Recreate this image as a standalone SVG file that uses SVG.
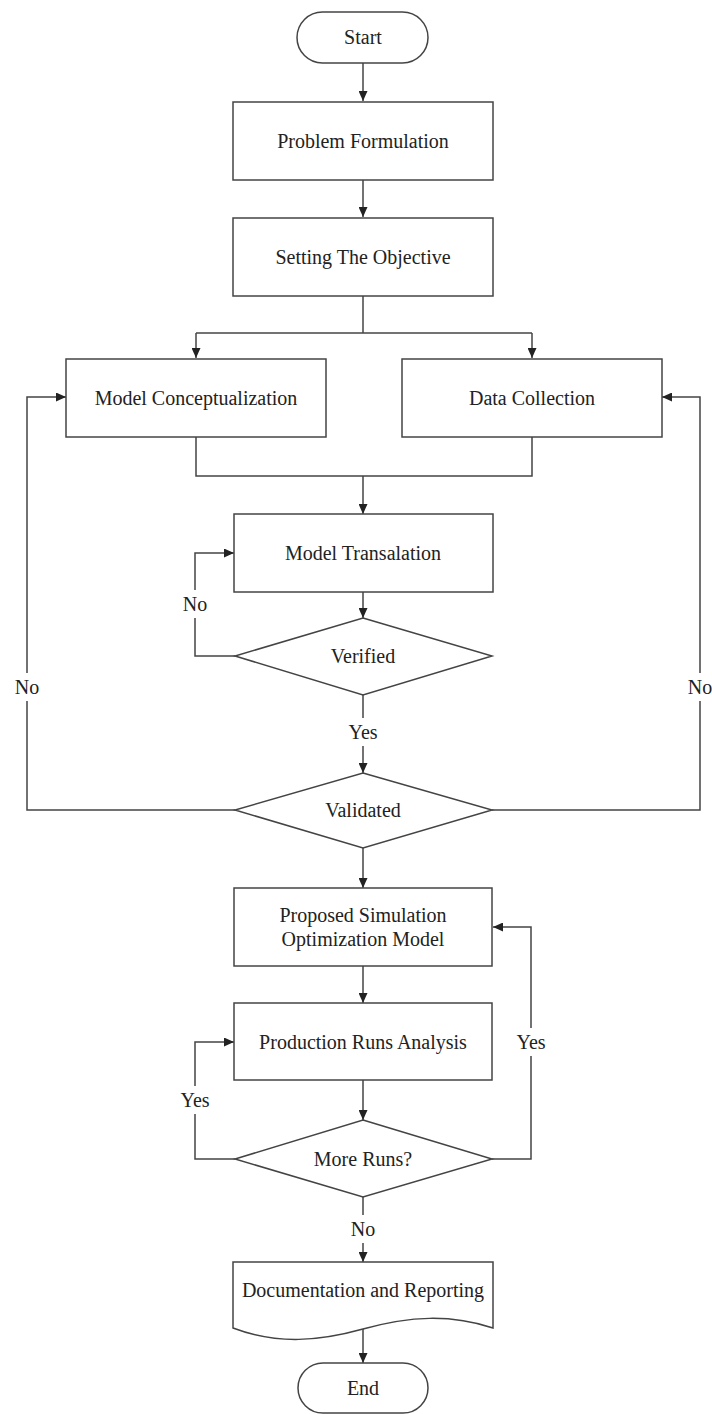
<svg xmlns="http://www.w3.org/2000/svg" width="712" height="1414" viewBox="0 0 712 1414">
<style>
.shape{fill:#fff;stroke:#444;stroke-width:1.5}
.ln{fill:none;stroke:#444;stroke-width:1.5}
.t{font-family:"Liberation Serif","Times New Roman",serif;font-size:20px;fill:#222;text-anchor:middle}
.bg{fill:#fff;stroke:none}
</style>
<defs>
<marker id="ah" markerUnits="userSpaceOnUse" markerWidth="10" markerHeight="9" refX="10" refY="4.5" orient="auto">
<path d="M0,0 L10,4.5 L0,9 Z" fill="#222"/>
</marker>
</defs>
<g id="connectors">
<path class="ln" d="M363,63 V101" marker-end="url(#ah)"/>
<path class="ln" d="M363,180 V217" marker-end="url(#ah)"/>
<path class="ln" d="M363,296 V333"/>
<path class="ln" d="M196,333 H532"/>
<path class="ln" d="M196,333 V358" marker-end="url(#ah)"/>
<path class="ln" d="M532,333 V358" marker-end="url(#ah)"/>
<path class="ln" d="M196,437 V476 H532 V437"/>
<path class="ln" d="M363,476 V514" marker-end="url(#ah)"/>
<path class="ln" d="M363,592 V618" marker-end="url(#ah)"/>
<path class="ln" d="M235,656 H195 V553 H234" marker-end="url(#ah)"/>
<path class="ln" d="M363,695 V773" marker-end="url(#ah)"/>
<path class="ln" d="M235,810 H27 V397 H66" marker-end="url(#ah)"/>
<path class="ln" d="M492,810 H700 V397 H662" marker-end="url(#ah)"/>
<path class="ln" d="M363,848 V888" marker-end="url(#ah)"/>
<path class="ln" d="M363,966 V1003" marker-end="url(#ah)"/>
<path class="ln" d="M363,1080 V1120" marker-end="url(#ah)"/>
<path class="ln" d="M235,1159 H195 V1042 H234" marker-end="url(#ah)"/>
<path class="ln" d="M492,1159 H531 V927 H493" marker-end="url(#ah)"/>
<path class="ln" d="M363,1197 V1262" marker-end="url(#ah)"/>
<path class="ln" d="M363,1329 V1363" marker-end="url(#ah)"/>
<rect class="bg" x="181" y="590" width="28" height="28"/>
<text class="t" x="195" y="604" dy="0.35em">No</text>
<rect class="bg" x="346" y="718" width="34" height="28"/>
<text class="t" x="363" y="732" dy="0.35em">Yes</text>
<rect class="bg" x="13" y="673" width="28" height="28"/>
<text class="t" x="27" y="687" dy="0.35em">No</text>
<rect class="bg" x="686" y="673" width="26" height="28"/>
<text class="t" x="700" y="687" dy="0.35em">No</text>
<rect class="bg" x="178" y="1086" width="34" height="28"/>
<text class="t" x="195" y="1100" dy="0.35em">Yes</text>
<rect class="bg" x="514" y="1028" width="34" height="28"/>
<text class="t" x="531" y="1042" dy="0.35em">Yes</text>
<rect class="bg" x="349" y="1215" width="28" height="28"/>
<text class="t" x="363" y="1229" dy="0.35em">No</text>
</g>
<g id="start">
<rect class="shape" x="297" y="12" width="131" height="51" rx="25.5"/>
<text class="t" x="363" y="37" dy="0.35em">Start</text>
</g>
<g id="problem">
<rect class="shape" x="233" y="102" width="260" height="78"/>
<text class="t" x="363" y="141" dy="0.35em">Problem Formulation</text>
</g>
<g id="objective">
<rect class="shape" x="233" y="218" width="260" height="78"/>
<text class="t" x="363" y="257" dy="0.35em">Setting The Objective</text>
</g>
<g id="conceptualization">
<rect class="shape" x="66" y="359" width="260" height="78"/>
<text class="t" x="196" y="398" dy="0.35em">Model Conceptualization</text>
</g>
<g id="datacollection">
<rect class="shape" x="402" y="359" width="260" height="78"/>
<text class="t" x="532" y="398" dy="0.35em">Data Collection</text>
</g>
<g id="translation">
<rect class="shape" x="234" y="514" width="259" height="78"/>
<text class="t" x="363" y="553" dy="0.35em">Model Transalation</text>
</g>
<g id="verified">
<path class="shape" d="M363,618 L492,656 L363,695 L235,656 Z"/>
<text class="t" x="363" y="656" dy="0.35em">Verified</text>
</g>
<g id="validated">
<path class="shape" d="M363,773 L492,810 L363,848 L235,810 Z"/>
<text class="t" x="363" y="810" dy="0.35em">Validated</text>
</g>
<g id="proposed">
<rect class="shape" x="234" y="888" width="258" height="78"/>
<text class="t" x="363" y="915" dy="0.35em">Proposed Simulation</text>
<text class="t" x="363" y="939" dy="0.35em">Optimization Model</text>
</g>
<g id="production">
<rect class="shape" x="234" y="1003" width="258" height="77"/>
<text class="t" x="363" y="1042" dy="0.35em">Production Runs Analysis</text>
</g>
<g id="moreruns">
<path class="shape" d="M363,1120 L492,1159 L363,1197 L235,1159 Z"/>
<text class="t" x="363" y="1159" dy="0.35em">More Runs?</text>
</g>
<g id="documentation">
<path class="shape" d="M233,1262 H493 V1328 C450,1314 410,1316 363,1329 C320,1341 278,1345 233,1328 Z"/>
<text class="t" x="363" y="1290" dy="0.35em">Documentation and Reporting</text>
</g>
<g id="end">
<rect class="shape" x="298" y="1363" width="130" height="50" rx="25"/>
<text class="t" x="363" y="1388" dy="0.35em">End</text>
</g>
</svg>
